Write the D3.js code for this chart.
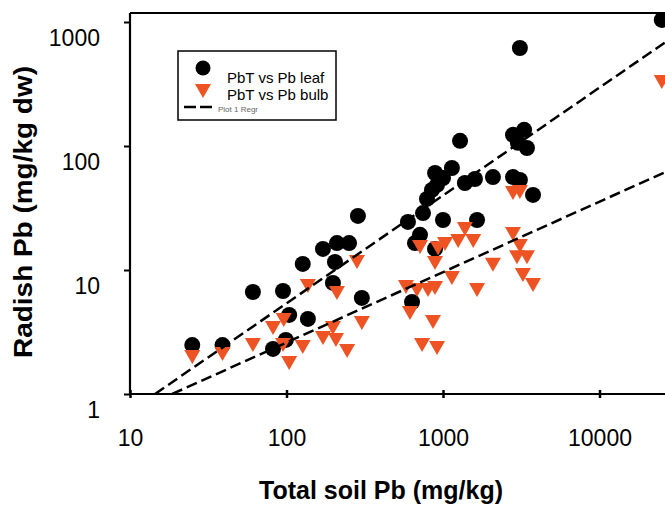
<!DOCTYPE html>
<html><head><meta charset="utf-8">
<script src="https://cdn.jsdelivr.net/npm/d3@7"></script>
<style>html,body{margin:0;padding:0;background:#fff;overflow:hidden}</style>
</head><body>
<script>
// ---- data ----
const leafX = [25, 39, 61, 95, 127, 204, 198, 104, 137, 99, 82, 303, 286, 171, 210, 251, 1285, 2800, 3300, 3440, 3010, 890, 1140, 1000, 916, 1380, 1600, 2085, 2800, 3100, 3760, 850, 790, 745, 597, 1000, 1650, 713, 662, 889, 634, 3100, 25000];
const leafY = [2.48, 2.48, 6.65, 6.77, 11.2, 11.6, 7.86, 4.34, 4.03, 2.73, 2.31, 5.95, 27.3, 14.8, 16.5, 16.5, 110, 123, 135, 96.4, 106, 60.6, 66.5, 55.2, 48.5, 50.3, 54.2, 56.2, 56.2, 53.2, 40.3, 44.2, 37.4, 28.8, 24.4, 25.3, 25.3, 19.2, 16.5, 14.8, 5.52, 617, 1040];
const bulbX = [25, 39, 61, 82, 96, 95, 104, 127, 137, 171, 198, 207, 210, 244, 303, 282, 580, 2800, 3100, 1380, 2800, 1560, 1250, 1030, 929, 713, 3100, 2970, 3440, 889, 2085, 1140, 3240, 3760, 682, 802, 889, 1650, 615, 863, 735, 916, 25000];
const bulbY = [1.99, 2.10, 2.48, 3.41, 3.95, 2.48, 1.78, 2.39, 7.43, 2.83, 3.41, 2.73, 6.53, 2.22, 3.74, 11.6, 7.29, 41.8, 42.6, 21.4, 19.5, 17.1, 17.1, 16.2, 15.0, 15.3, 15.6, 12.7, 12.7, 11.4, 11.0, 8.62, 9.11, 7.57, 6.9, 6.9, 7.16, 6.9, 4.5, 3.81, 2.48, 2.35, 328];
// log10(y) = slope*log10(x) + intercept
const regrSlope = [0.87, 0.568];
const regrIntercept = [-1.009, -0.721];
const xTicks = [10, 100, 1000, 10000];
const yTicks = [1, 10, 100, 1000];
const seriesNames = ["PbT vs Pb leaf", "PbT vs Pb bulb", "Plot 1 Regr"];
const xTitle = "Total soil Pb (mg/kg)";
const yTitle = "Radish Pb (mg/kg dw)";

// ---- layout ----
const W = 665, H = 506;
const pL = 130, pB = 394, pT = 13, pR = 760;
const orange = "#EE5324";
const font = "'Liberation Sans', Arial, sans-serif";

const svg = d3.select("body").append("svg").attr("width", W).attr("height", H)
  .style("font-family", font);

const x = d3.scaleLog().domain([10, 100000]).range([pL, pL + 4 * 156.5]);
const y = d3.scaleLog().domain([1, 1000]).range([pB, 22]);

svg.append("defs").append("clipPath").attr("id", "plot")
  .append("rect").attr("x", pL).attr("y", pT).attr("width", pR - pL).attr("height", pB - pT);

// frame top line
svg.append("line").attr("x1", pL).attr("x2", pR).attr("y1", pT).attr("y2", pT)
  .attr("stroke", "#000").attr("stroke-width", 2);

// axes
const xAxis = d3.axisBottom(x).tickValues(xTicks).tickSize(0).tickFormat(d3.format("d"));
const gx = svg.append("g").attr("transform", `translate(0,${pB})`).call(xAxis);
gx.select(".domain").attr("stroke-width", 2.2).attr("d", `M${pL},0H${pR}`);
gx.selectAll(".tick line").attr("y1", -4).attr("y2", 4).attr("stroke-width", 2.5);
gx.selectAll(".tick text").attr("y", 52).attr("dy", 0).attr("font-size", 23).attr("font-family", font).attr("fill", "#000");

const yAxis = d3.axisLeft(y).tickValues(yTicks).tickSize(6).tickPadding(24).tickFormat(d3.format("d"));
const gy = svg.append("g").attr("transform", `translate(${pL},0)`).call(yAxis);
gy.select(".domain").attr("stroke-width", 2.2).attr("d", `M0,${pT}V${pB}`);
gy.selectAll(".tick line").attr("stroke-width", 2);
gy.selectAll(".tick text").attr("dy", 0).attr("y", 23).attr("font-size", 23).attr("font-family", font).attr("fill", "#000");

// titles
svg.append("text").attr("x", 381).attr("y", 499).attr("text-anchor", "middle")
  .attr("font-size", 25).attr("font-weight", "bold").text(xTitle);
svg.append("text").attr("transform", "translate(32,212) rotate(-90)").attr("text-anchor", "middle")
  .attr("font-size", 26).attr("font-weight", "bold")
  .attr("textLength", 292).attr("lengthAdjust", "spacingAndGlyphs").text(yTitle);

const plot = svg.append("g").attr("clip-path", "url(#plot)");

// markers
const leaf = leafX.map((v, i) => [v, leafY[i]]);
const bulb = bulbX.map((v, i) => [v, bulbY[i]]);
plot.selectAll("circle.leaf").data(leaf).join("circle").attr("class", "leaf")
  .attr("cx", d => x(d[0])).attr("cy", d => y(d[1])).attr("r", 8).attr("fill", "#000");
const tri = "M-8,-7L8,-7L0,7Z";
plot.selectAll("path.bulb").data(bulb).join("path").attr("class", "bulb")
  .attr("d", tri).attr("transform", d => `translate(${x(d[0])},${y(d[1])})`).attr("fill", orange);

// regression lines
regrSlope.forEach((s, i) => {
  const b = regrIntercept[i];
  const x0 = Math.pow(10, -b / s);  // where y = 1
  const x1 = 100000;
  const line = d3.line().x(d => x(d[0])).y(d => y(d[1]));
  const pts = [[x0, 1], [x1, Math.pow(10, s * Math.log10(x1) + b)]];
  plot.append("path").attr("d", line(pts)).attr("fill", "none").attr("stroke", "#000")
    .attr("stroke-width", 2.5).attr("stroke-dasharray", "11,5");
});

// legend
const lg = svg.append("g");
lg.append("rect").attr("x", 178).attr("y", 51).attr("width", 158).attr("height", 69)
  .attr("fill", "#fff").attr("stroke", "#000").attr("stroke-width", 1.5);
lg.append("circle").attr("cx", 203).attr("cy", 68).attr("r", 7.5).attr("fill", "#000");
lg.append("path").attr("d", tri).attr("transform", "translate(203,91)").attr("fill", orange);
lg.append("line").attr("x1", 184).attr("x2", 212).attr("y1", 107).attr("y2", 107)
  .attr("stroke", "#000").attr("stroke-width", 2.5).attr("stroke-dasharray", "12,4");
lg.append("text").attr("x", 227).attr("y", 83).attr("font-size", 15).text(seriesNames[0]);
lg.append("text").attr("x", 227).attr("y", 100).attr("font-size", 15).text(seriesNames[1]);
lg.append("text").attr("x", 218).attr("y", 112).attr("font-size", 8).attr("fill", "#666").text(seriesNames[2]);
</script>
</body></html>
